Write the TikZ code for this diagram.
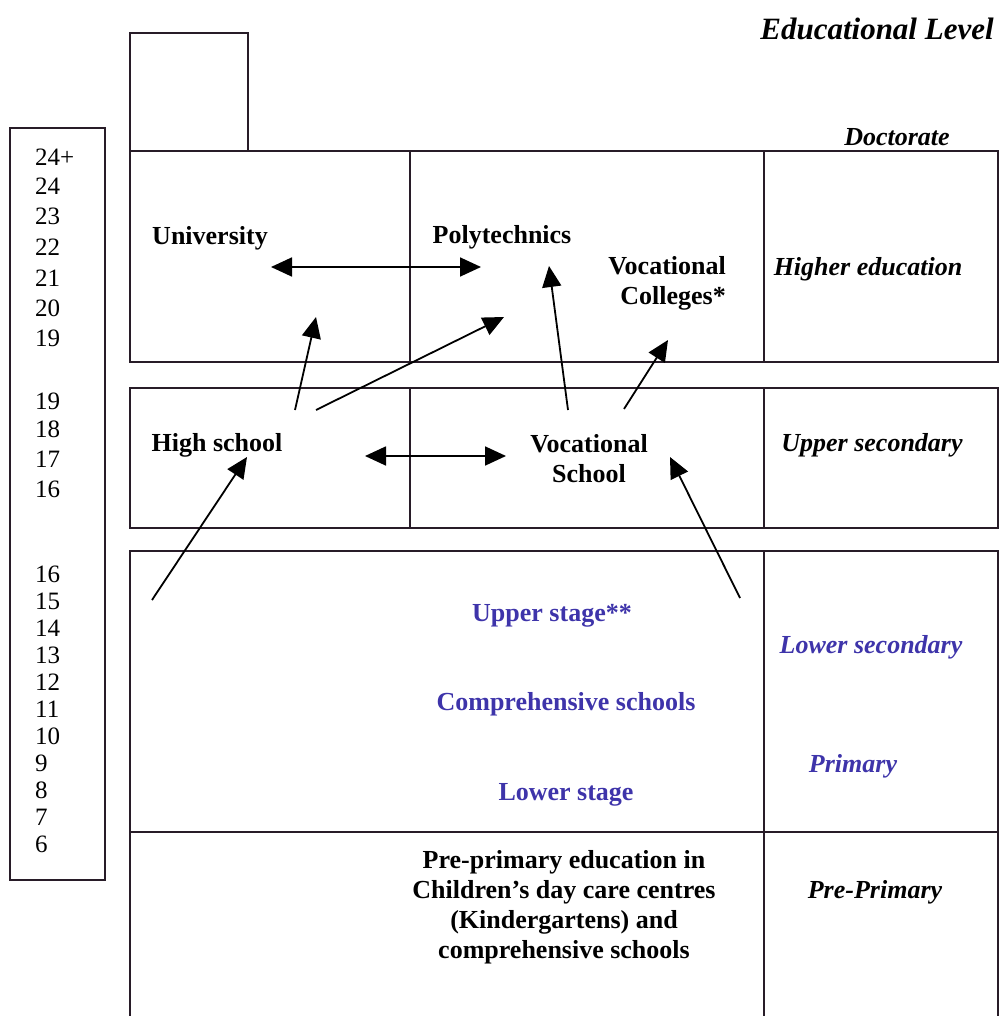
\documentclass[tikz,border=0pt]{standalone}
\usepackage{fontspec}
\setmainfont{Liberation Serif}
\usetikzlibrary{arrows.meta}
\definecolor{lineclr}{RGB}{40,28,40}
\definecolor{stageblue}{RGB}{62,52,170}
\tikzset{
  frame/.style={draw=lineclr, line width=1.6pt},
  lbl/.style={font=\fontsize{26}{30}\selectfont\bfseries, inner sep=0pt, align=center},
  lvl/.style={font=\fontsize{26}{30}\selectfont\bfseries\itshape, inner sep=0pt},
  age/.style={font=\fontsize{25}{28}\selectfont, inner sep=0pt, anchor=west},
  arr/.style={draw=black, line width=1.8pt, -{Triangle[length=21pt,width=19pt]}},
  darr/.style={draw=black, line width=1.8pt, {Triangle[length=21pt,width=19pt]}-{Triangle[length=21pt,width=19pt]}},
}
\begin{document}
\begin{tikzpicture}[x=1pt,y=-1pt]
\useasboundingbox (0,0) rectangle (999,1016);
% boxes
\draw[frame] (130,33) rectangle (248,151);
\draw[frame] (130,151) rectangle (998,362);
\draw[frame] (410,151) -- (410,362);
\draw[frame] (764,151) -- (764,362);
\draw[frame] (130,388) rectangle (998,528);
\draw[frame] (410,388) -- (410,528);
\draw[frame] (764,388) -- (764,528);
\draw[frame] (130,1020) -- (130,551) -- (998,551) -- (998,1020);
\draw[frame] (764,551) -- (764,1020);
\draw[frame] (130,832) -- (998,832);
\draw[frame] (10,128) rectangle (105,880);
% ages
\foreach \t/\yy in {24+/157,24/186,23/216,22/247,21/278,20/308,19/338,19/401,18/429,17/459,16/489,16/574,15/601,14/628,13/655,12/682,11/709,10/736,9/763,8/790,7/817,6/844}
  \node[age] at (35,\yy) {\t};
% level column
\node[lvl, font=\fontsize{31}{36}\selectfont\bfseries\itshape] (edlevel) at (877,29) {Educational Level};
\node[lvl] (doct) at (897,137) {Doctorate};
\node[lvl] (higher) at (868,269) {Higher education};
\node[lvl] (uppsec) at (872,445) {Upper secondary};
\node[lvl, text=stageblue] (lowsec) at (871,647) {Lower secondary};
\node[lvl, text=stageblue] (prim) at (853,766) {Primary};
\node[lvl] (preprim) at (875,892) {Pre-Primary};
% institutions
\node[lbl] (univ) at (210,238) {University};
\node[lbl] (poly) at (502,237) {Polytechnics};
\node[lbl, align=right, anchor=north east] (vcoll) at (726,256) {Vocational\\Colleges*};
\node[lbl] (hs) at (217,445) {High school};
\node[lbl] (vs) at (589,459) {Vocational\\School};
\node[lbl, text=stageblue] (upstage) at (552,616) {Upper stage**};
\node[lbl, text=stageblue] (comp) at (566,704) {Comprehensive schools};
\node[lbl, text=stageblue] (lowstage) at (566,795) {Lower stage};
\node[lbl] (preedu) at (564,907) {Pre-primary education in\\Children's day care centres\\(Kindergartens) and\\comprehensive schools};
% connector end points
\coordinate (uL) at (271,267);
\coordinate (pR) at (481,267);
\coordinate (hsA) at (295,410);
\coordinate (uA) at (316,317);
\coordinate (hsB) at (316,410);
\coordinate (pA) at (504,317);
\coordinate (vsA) at (568,410);
\coordinate (pB) at (549,266);
\coordinate (vsB) at (624,409);
\coordinate (vcA) at (668,340);
\coordinate (hsR) at (365,456);
\coordinate (vsL) at (506,456);
\coordinate (lowL) at (152,600);
\coordinate (hsC) at (247,457);
\coordinate (lowR) at (740,598);
\coordinate (vsC) at (670,457);
% connectors
\draw[darr] (uL) -- (pR);
\draw[arr] (hsA) -- (uA);
\draw[arr] (hsB) -- (pA);
\draw[arr] (vsA) -- (pB);
\draw[arr] (vsB) -- (vcA);
\draw[darr] (hsR) -- (vsL);
\draw[arr] (lowL) -- (hsC);
\draw[arr] (lowR) -- (vsC);
\end{tikzpicture}
\end{document}
